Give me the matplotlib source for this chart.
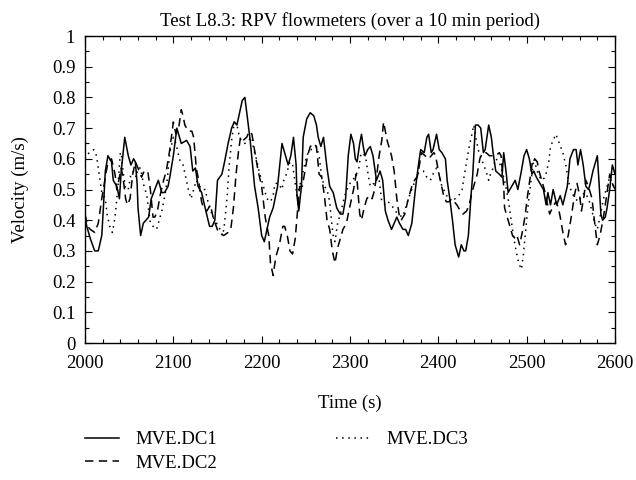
import matplotlib
matplotlib.use("Agg")
import matplotlib.pyplot as plt
from matplotlib.ticker import MultipleLocator

plt.rcParams["font.family"] = ["Liberation Serif", "DejaVu Serif"]

# MVE.DC1 (solid)
t_dc1 = [2000, 2002, 2006, 2011, 2015, 2019, 2021, 2023, 2026, 2030, 2032, 2036, 2039, 2041,
         2045, 2049, 2052, 2055, 2057, 2059, 2060, 2063, 2066, 2072, 2075, 2079, 2083, 2087,
         2090, 2094, 2096, 2100, 2104, 2107, 2109, 2115, 2119, 2122, 2125, 2128, 2132, 2136,
         2141, 2144, 2147, 2150, 2155, 2158, 2162, 2166, 2169, 2172, 2175, 2178, 2181, 2184,
         2187, 2190, 2192, 2196, 2200, 2203, 2206, 2209, 2213, 2218, 2223, 2226, 2230, 2233,
         2236, 2239, 2240, 2242, 2245, 2247, 2251, 2255, 2259, 2262, 2264, 2267, 2270, 2274,
         2277, 2281, 2285, 2289, 2292, 2295, 2298, 2301, 2304, 2306, 2308, 2311, 2313, 2315,
         2317, 2320, 2323, 2326, 2330, 2334, 2337, 2340, 2343, 2347, 2350, 2353, 2356, 2360,
         2363, 2366, 2370, 2374, 2377, 2380, 2384, 2387, 2389, 2392, 2394, 2398, 2401, 2404,
         2408, 2410, 2413, 2416, 2419, 2423, 2426, 2429, 2431, 2434, 2437, 2439, 2442, 2445,
         2448, 2451, 2453, 2457, 2460, 2462, 2465, 2469, 2472, 2474, 2477, 2479, 2483, 2487,
         2490, 2494, 2497, 2500, 2503, 2506, 2508, 2511, 2515, 2519, 2522, 2524, 2527, 2530,
         2534, 2538, 2541, 2546, 2549, 2553, 2556, 2558, 2561, 2564, 2567, 2570, 2572, 2575,
         2580, 2582, 2584, 2586, 2589, 2591, 2594, 2597, 2600]
v_dc1 = [0.41, 0.38, 0.34, 0.30, 0.30, 0.35, 0.45, 0.56, 0.61, 0.59, 0.53, 0.51, 0.47, 0.56,
         0.67, 0.61, 0.58, 0.60, 0.59, 0.52, 0.44, 0.35, 0.39, 0.41, 0.47, 0.50, 0.53, 0.49,
         0.49, 0.51, 0.54, 0.61, 0.70, 0.67, 0.65, 0.66, 0.64, 0.56, 0.57, 0.51, 0.49, 0.44,
         0.38, 0.38, 0.40, 0.53, 0.55, 0.59, 0.65, 0.70, 0.72, 0.71, 0.75, 0.79, 0.80, 0.73,
         0.66, 0.57, 0.51, 0.44, 0.35, 0.33, 0.37, 0.41, 0.44, 0.51, 0.65, 0.62, 0.58, 0.61,
         0.67, 0.58, 0.48, 0.43, 0.51, 0.67, 0.73, 0.75, 0.74, 0.71, 0.67, 0.64, 0.67, 0.57,
         0.51, 0.49, 0.44, 0.42, 0.42, 0.47, 0.61, 0.68, 0.65, 0.60, 0.59, 0.65, 0.68, 0.64,
         0.61, 0.63, 0.64, 0.61, 0.53, 0.56, 0.53, 0.43, 0.40, 0.37, 0.39, 0.41, 0.39, 0.37,
         0.37, 0.35, 0.39, 0.50, 0.57, 0.63, 0.62, 0.67, 0.68, 0.62, 0.63, 0.68, 0.63, 0.62,
         0.60, 0.53, 0.47, 0.40, 0.32, 0.28, 0.32, 0.30, 0.30, 0.35, 0.48, 0.55, 0.71, 0.71,
         0.70, 0.62, 0.63, 0.71, 0.67, 0.62, 0.56, 0.55, 0.54, 0.62, 0.55, 0.49, 0.51, 0.53,
         0.50, 0.56, 0.61, 0.63, 0.60, 0.55, 0.56, 0.54, 0.52, 0.50, 0.45, 0.49, 0.45, 0.50,
         0.45, 0.48, 0.45, 0.51, 0.60, 0.63, 0.63, 0.58, 0.63, 0.58, 0.51, 0.50, 0.52, 0.56,
         0.61, 0.52, 0.42, 0.40, 0.41, 0.44, 0.50, 0.58, 0.55]

# MVE.DC2 (dashed)
t_dc2 = [2000, 2003, 2006, 2011, 2015, 2019, 2023, 2026, 2030, 2034, 2036, 2039, 2041, 2043,
         2046, 2048, 2051, 2054, 2057, 2060, 2064, 2067, 2071, 2074, 2077, 2079, 2082, 2085,
         2089, 2092, 2096, 2100, 2103, 2106, 2109, 2111, 2113, 2117, 2121, 2123, 2126, 2128,
         2132, 2134, 2138, 2142, 2145, 2151, 2157, 2162, 2165, 2168, 2171, 2174, 2176, 2177,
         2179, 2183, 2186, 2189, 2193, 2196, 2200, 2204, 2208, 2210, 2213, 2216, 2220, 2224,
         2226, 2229, 2232, 2235, 2238, 2240, 2243, 2246, 2249, 2252, 2255, 2259, 2262, 2265,
         2268, 2271, 2274, 2277, 2280, 2283, 2286, 2289, 2292, 2296, 2298, 2301, 2304, 2307,
         2308, 2311, 2313, 2316, 2319, 2322, 2325, 2327, 2330, 2333, 2336, 2338, 2342, 2345,
         2347, 2350, 2353, 2356, 2358, 2362, 2366, 2370, 2373, 2376, 2378, 2381, 2385, 2389,
         2392, 2395, 2397, 2400, 2403, 2406, 2409, 2412, 2415, 2418, 2421, 2425, 2428, 2432,
         2435, 2438, 2441, 2444, 2447, 2450, 2454, 2458, 2461, 2465, 2469, 2471, 2474, 2475,
         2478, 2481, 2484, 2487, 2489, 2492, 2495, 2498, 2501, 2504, 2507, 2509, 2512, 2514,
         2517, 2520, 2523, 2526, 2529, 2533, 2536, 2538, 2541, 2544, 2547, 2551, 2554, 2557,
         2560, 2562, 2565, 2567, 2570, 2574, 2577, 2580, 2583, 2587, 2591, 2594, 2597, 2600]
v_dc2 = [0.42, 0.38, 0.37, 0.36, 0.39, 0.47, 0.54, 0.59, 0.60, 0.55, 0.50, 0.54, 0.57, 0.54,
         0.47, 0.45, 0.47, 0.55, 0.59, 0.57, 0.54, 0.56, 0.56, 0.50, 0.41, 0.41, 0.43, 0.48,
         0.53, 0.56, 0.63, 0.72, 0.68, 0.70, 0.76, 0.74, 0.71, 0.69, 0.69, 0.67, 0.57, 0.54,
         0.46, 0.44, 0.43, 0.45, 0.41, 0.36, 0.35, 0.36, 0.37, 0.44, 0.55, 0.63, 0.67, 0.66,
         0.66, 0.67, 0.69, 0.68, 0.61, 0.56, 0.51, 0.41, 0.35, 0.26, 0.22, 0.28, 0.32, 0.38,
         0.38, 0.35, 0.30, 0.29, 0.34, 0.41, 0.51, 0.51, 0.56, 0.61, 0.64, 0.65, 0.64, 0.55,
         0.54, 0.48, 0.40, 0.37, 0.30, 0.26, 0.31, 0.34, 0.37, 0.39, 0.42, 0.46, 0.50, 0.55,
         0.53, 0.42, 0.40, 0.44, 0.47, 0.48, 0.47, 0.49, 0.54, 0.61, 0.66, 0.72, 0.66, 0.63,
         0.61, 0.56, 0.47, 0.41, 0.40, 0.42, 0.47, 0.51, 0.53, 0.54, 0.57, 0.62, 0.61, 0.60,
         0.61, 0.62, 0.61, 0.56, 0.52, 0.48, 0.46, 0.46, 0.47, 0.46, 0.45, 0.43, 0.42, 0.43,
         0.45, 0.49, 0.52, 0.55, 0.60, 0.62, 0.62, 0.61, 0.61, 0.61, 0.62, 0.61, 0.51, 0.44,
         0.41, 0.38, 0.35, 0.34, 0.35, 0.32, 0.36, 0.41, 0.48, 0.54, 0.60, 0.60, 0.59, 0.56,
         0.53, 0.50, 0.46, 0.42, 0.44, 0.46, 0.44, 0.41, 0.36, 0.32, 0.35, 0.42, 0.48, 0.52,
         0.48, 0.43, 0.48, 0.53, 0.51, 0.47, 0.39, 0.32, 0.35, 0.41, 0.49, 0.55, 0.52, 0.50]

# MVE.DC3 (dotted)
t_dc3 = [2000, 2001, 2005, 2010, 2013, 2016, 2019, 2023, 2025, 2028, 2031, 2034, 2037, 2040,
         2041, 2043, 2046, 2049, 2052, 2055, 2058, 2060, 2063, 2066, 2070, 2074, 2077, 2081,
         2084, 2087, 2091, 2093, 2096, 2100, 2103, 2106, 2108, 2111, 2114, 2117, 2120, 2122,
         2126, 2128, 2132, 2136, 2140, 2145, 2149, 2153, 2156, 2158, 2161, 2163, 2166, 2169,
         2172, 2175, 2177, 2181, 2185, 2189, 2191, 2194, 2197, 2200, 2203, 2206, 2210, 2213,
         2215, 2219, 2223, 2225, 2228, 2232, 2235, 2238, 2240, 2243, 2247, 2251, 2255, 2259,
         2262, 2265, 2268, 2271, 2274, 2277, 2279, 2281, 2283, 2286, 2290, 2294, 2298, 2302,
         2306, 2310, 2312, 2315, 2318, 2321, 2323, 2327, 2330, 2333, 2336, 2340, 2343, 2347,
         2351, 2355, 2359, 2362, 2366, 2370, 2374, 2376, 2380, 2383, 2387, 2391, 2394, 2398,
         2401, 2404, 2408, 2411, 2415, 2419, 2423, 2425, 2427, 2429, 2432, 2435, 2438, 2440,
         2443, 2446, 2450, 2454, 2457, 2459, 2462, 2465, 2469, 2472, 2475, 2479, 2482, 2485,
         2488, 2491, 2494, 2496, 2499, 2502, 2505, 2508, 2510, 2513, 2517, 2521, 2525, 2527,
         2530, 2533, 2537, 2541, 2545, 2547, 2551, 2555, 2559, 2562, 2566, 2570, 2574, 2577,
         2580, 2583, 2587, 2591, 2594, 2597, 2600]
v_dc3 = [0.60, 0.61, 0.62, 0.63, 0.61, 0.55, 0.49, 0.47, 0.42, 0.38, 0.36, 0.41, 0.50, 0.62,
         0.62, 0.56, 0.50, 0.50, 0.55, 0.56, 0.54, 0.57, 0.57, 0.52, 0.48, 0.39, 0.38, 0.37,
         0.40, 0.43, 0.49, 0.53, 0.62, 0.67, 0.65, 0.61, 0.59, 0.58, 0.54, 0.50, 0.47, 0.49,
         0.53, 0.52, 0.50, 0.50, 0.45, 0.41, 0.39, 0.37, 0.35, 0.39, 0.48, 0.57, 0.66, 0.72,
         0.71, 0.67, 0.66, 0.65, 0.66, 0.67, 0.63, 0.60, 0.56, 0.53, 0.50, 0.47, 0.46, 0.48,
         0.52, 0.52, 0.50, 0.53, 0.55, 0.59, 0.58, 0.52, 0.48, 0.51, 0.56, 0.61, 0.63, 0.63,
         0.64, 0.61, 0.54, 0.51, 0.50, 0.46, 0.40, 0.35, 0.33, 0.39, 0.43, 0.48, 0.51, 0.53,
         0.54, 0.57, 0.61, 0.62, 0.60, 0.54, 0.51, 0.52, 0.54, 0.53, 0.46, 0.45, 0.46, 0.45,
         0.43, 0.42, 0.41, 0.43, 0.47, 0.50, 0.53, 0.55, 0.56, 0.56, 0.54, 0.53, 0.55, 0.57,
         0.55, 0.51, 0.49, 0.47, 0.46, 0.47, 0.48, 0.49, 0.50, 0.54, 0.59, 0.64, 0.68, 0.71,
         0.66, 0.62, 0.59, 0.56, 0.53, 0.55, 0.57, 0.60, 0.59, 0.56, 0.53, 0.47, 0.41, 0.35,
         0.30, 0.26, 0.24, 0.28, 0.37, 0.46, 0.53, 0.60, 0.58, 0.55, 0.53, 0.54, 0.59, 0.64,
         0.66, 0.68, 0.65, 0.62, 0.57, 0.53, 0.49, 0.47, 0.46, 0.48, 0.49, 0.47, 0.43, 0.39,
         0.37, 0.41, 0.47, 0.51, 0.54, 0.52, 0.50]

FS = 13.5

fig = plt.figure(figsize=(6.36, 4.8), dpi=100, facecolor="white")
ax = fig.add_axes([85 / 636, 1 - 343 / 480, 530 / 636, 307 / 480])

ax.plot(t_dc1, v_dc1, color="black", lw=1.1, ls="-", label="MVE.DC1")
ax.plot(t_dc2, v_dc2, color="black", lw=1.1, ls=(0, (5.5, 3.5)), label="MVE.DC2")
ax.plot(t_dc3, v_dc3, color="black", lw=1.1, ls=(0, (1, 3)), label="MVE.DC3")

ax.set_xlim(2000, 2600)
ax.set_ylim(0, 1)
ax.xaxis.set_major_locator(MultipleLocator(100))
ax.xaxis.set_minor_locator(MultipleLocator(20))
ax.yaxis.set_major_locator(MultipleLocator(0.1))
ax.yaxis.set_minor_locator(MultipleLocator(0.05))
ax.set_yticks([0, 0.1, 0.2, 0.3, 0.4, 0.5, 0.6, 0.7, 0.8, 0.9, 1])
ax.set_yticklabels(["0", "0.1", "0.2", "0.3", "0.4", "0.5", "0.6", "0.7", "0.8", "0.9", "1"])
ax.tick_params(which="both", direction="in", top=True, right=True, labelsize=FS)
ax.tick_params(which="major", length=5, width=0.8)
ax.tick_params(which="minor", length=3, width=0.8)
ax.tick_params(axis="x", pad=9)
ax.tick_params(axis="y", pad=7)
for sp in ax.spines.values():
    sp.set_linewidth(1.0)

ax.set_title("Test L8.3: RPV flowmeters (over a 10 min period)", fontsize=FS, pad=7)
ax.set_xlabel("Time (s)", fontsize=FS)
ax.set_ylabel("Velocity (m/s)", fontsize=FS)
ax.xaxis.set_label_coords(0.5, (343 - 403) / 307)
ax.xaxis.label.set_va("center")
ax.yaxis.set_label_coords((20 - 85) / 530, 0.5)
ax.yaxis.label.set_va("center")

fig.legend(loc="upper left", bbox_to_anchor=(85 / 636, 1 - 431 / 480), ncol=2,
           frameon=False, fontsize=FS, borderpad=0, borderaxespad=0,
           handlelength=1.8, handletextpad=0.9, columnspacing=6.3, labelspacing=0.35)

fig.savefig("out.png", dpi=100, facecolor="white")
